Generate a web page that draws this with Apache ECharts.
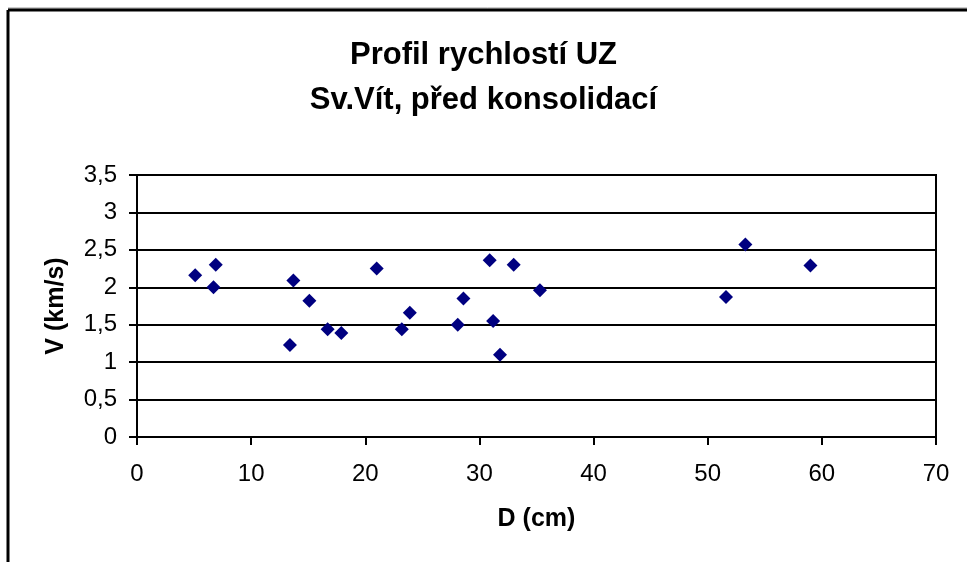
<!DOCTYPE html>
<html>
<head>
<meta charset="utf-8">
<script src="https://cdn.jsdelivr.net/npm/echarts@6/dist/echarts.min.js"></script>
<style>
  html, body { margin: 0; padding: 0; background: #fff; }
  #chart { width: 967px; height: 562px; }
</style>
</head>
<body>
<div id="chart"></div>
<script>
// hloubka D (cm) a rychlost V (km/s)
const depths = [5.1, 6.9, 6.7, 13.7, 13.4, 15.1, 16.7, 17.9, 21.0, 23.2, 23.9,
  28.1, 28.6, 30.9, 31.2, 31.8, 33.0, 35.3, 51.6, 53.3, 59.0];
const speeds = [2.16, 2.30, 2.00, 2.09, 1.23, 1.82, 1.44, 1.39, 2.25, 1.44, 1.66,
  1.50, 1.85, 2.36, 1.55, 1.10, 2.30, 1.96, 1.87, 2.57, 2.29];
const titleLines = ['Profil rychlostí UZ', 'Sv.Vít, před konsolidací'];

const chart = echarts.init(document.getElementById('chart'));
const font = 'Liberation Sans, Arial, sans-serif';
const points = depths.map((d, i) => [d, speeds[i]]);

const option = {
  animation: false,
  backgroundColor: '#fff',
  textStyle: { fontFamily: font },
  title: {
    text: titleLines.join('\n'),
    left: 'center',
    top: 28,
    textStyle: { fontFamily: font, fontSize: 31, fontWeight: 'bold', color: '#000', lineHeight: 45 }
  },
  grid: {
    left: 137, right: 31, top: 175, bottom: 125,
    show: true, borderColor: '#000', borderWidth: 2, backgroundColor: 'transparent'
  },
  xAxis: {
    type: 'value', min: 0, max: 70, interval: 10,
    name: 'D (cm)', nameLocation: 'middle', nameGap: 70,
    nameTextStyle: { fontFamily: font, fontSize: 25, fontWeight: 'bold', color: '#000' },
    axisLine: { lineStyle: { color: '#000', width: 2 } },
    axisTick: { show: true, inside: false, length: 8, lineStyle: { color: '#000', width: 2 } },
    axisLabel: { fontFamily: font, fontSize: 24, color: '#000', margin: 25 },
    splitLine: { show: false }
  },
  yAxis: {
    type: 'value', min: 0, max: 3.5, interval: 0.5,
    name: 'V (km/s)', nameLocation: 'middle', nameGap: 68, nameRotate: 90,
    nameTextStyle: { fontFamily: font, fontSize: 25, fontWeight: 'bold', color: '#000' },
    axisLine: { show: true, lineStyle: { color: '#000', width: 2 } },
    axisTick: { show: true, inside: false, length: 8, lineStyle: { color: '#000', width: 2 } },
    axisLabel: {
      fontFamily: font, fontSize: 24, color: '#000', margin: 20,
      formatter: v => String(v).replace('.', ',')
    },
    splitLine: { show: true, lineStyle: { color: '#000', width: 2 } }
  },
  graphic: [
    { type: 'line', shape: { x1: 8, y1: 8, x2: 967, y2: 8 }, style: { stroke: '#999', lineWidth: 1 } },
    { type: 'line', shape: { x1: 8, y1: 10, x2: 967, y2: 10 }, style: { stroke: '#000', lineWidth: 3 } },
    { type: 'line', shape: { x1: 8, y1: 10, x2: 8, y2: 562 }, style: { stroke: '#000', lineWidth: 3 } }
  ],
  series: [{
    type: 'scatter',
    data: points,
    symbol: 'diamond',
    symbolSize: 14,
    itemStyle: { color: '#000080', opacity: 1 }
  }]
};
chart.setOption(option);
</script>
</body>
</html>
